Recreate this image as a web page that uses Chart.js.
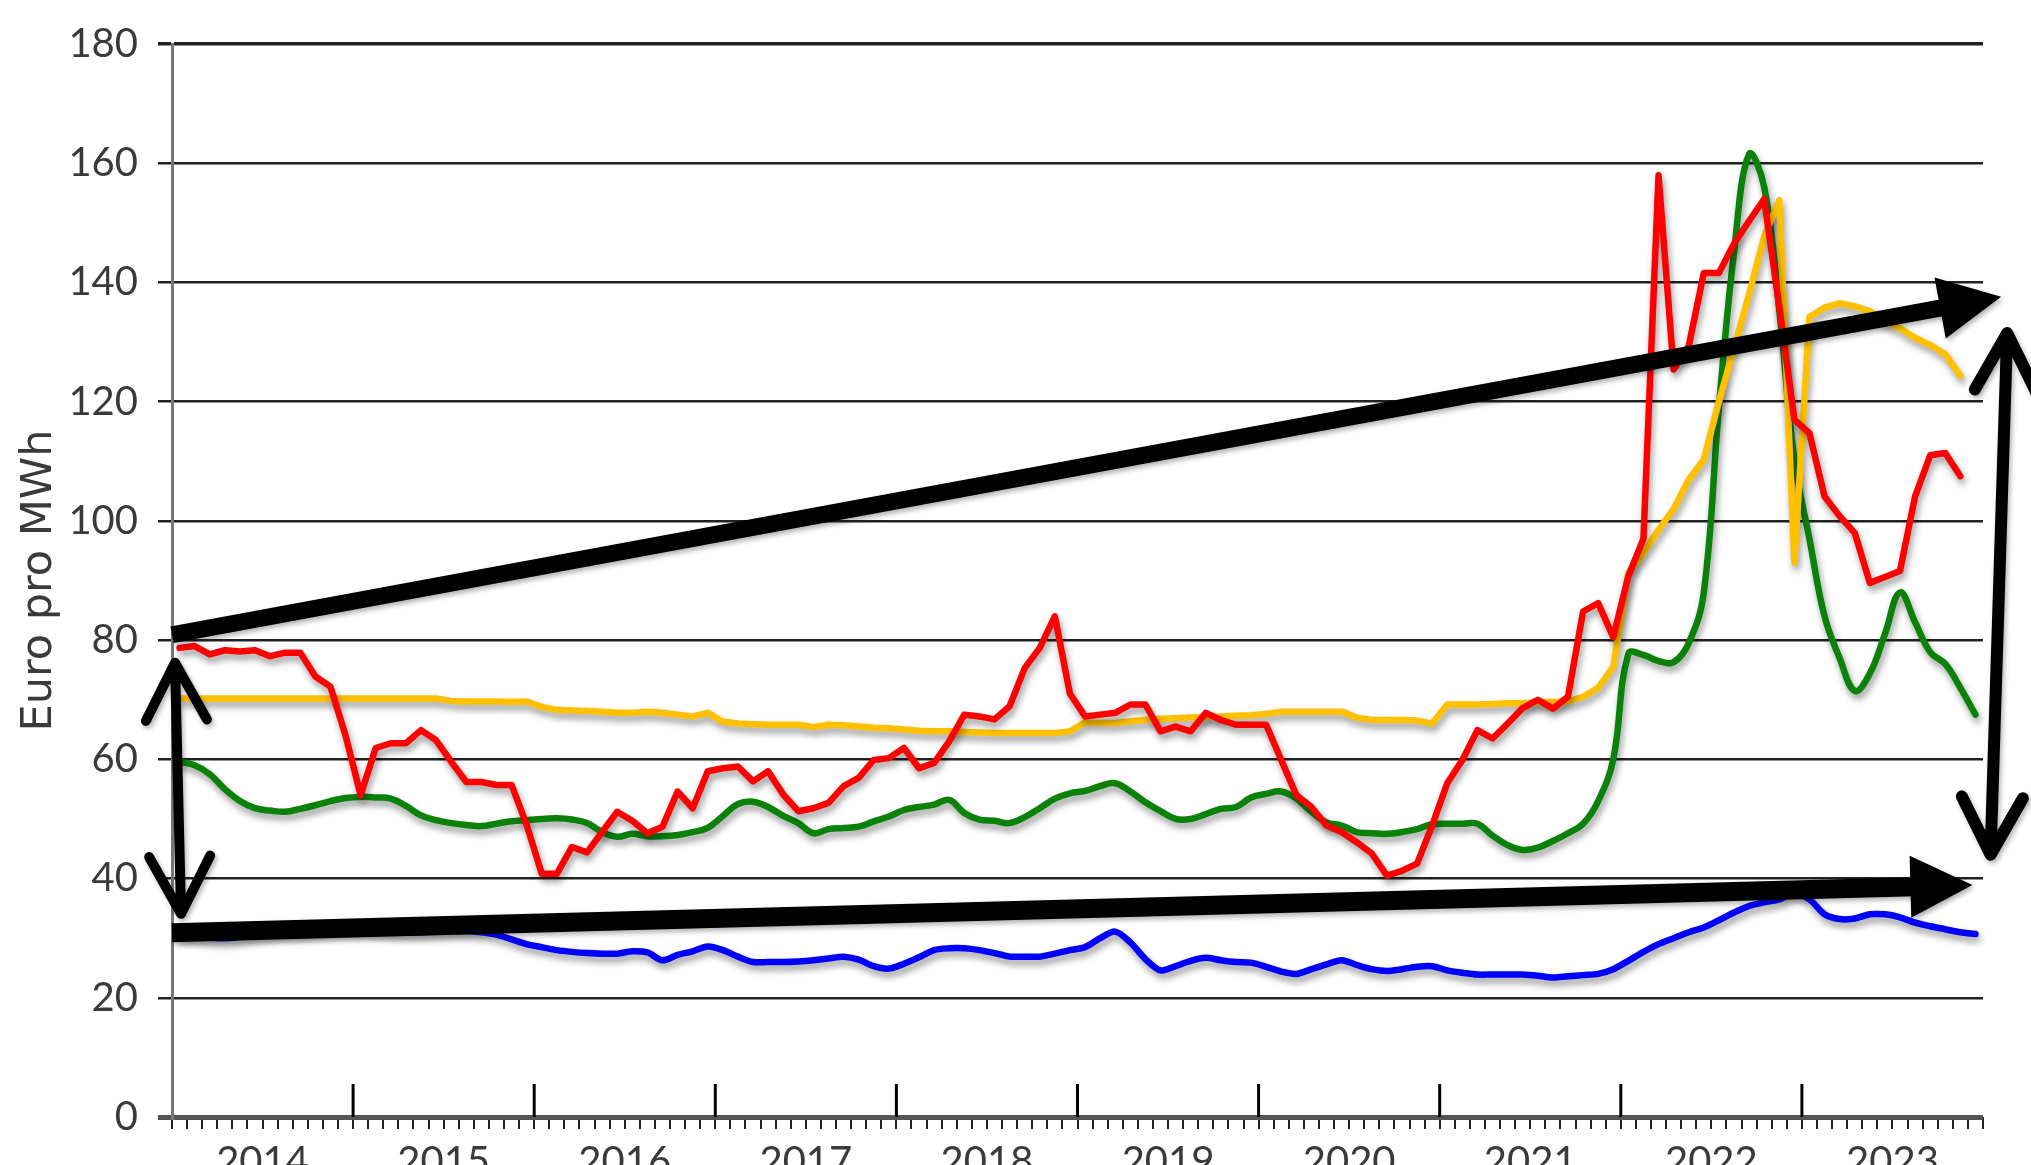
<!DOCTYPE html>
<html lang="de">
<head>
<meta charset="utf-8">
<title>Euro pro MWh</title>
<script src="https://cdn.jsdelivr.net/npm/chart.js@4.4.1/dist/chart.umd.min.js"></script>
<style>
  html, body { margin: 0; padding: 0; background: #fff; }
  #rahmen { width: 2031px; height: 1165px; position: relative; }
</style>
</head>
<body>
<div id="rahmen"><canvas id="preise"></canvas></div>
<script>
// Jahre und Monate (Kategorien)
const jahre = ["2014", "2015", "2016", "2017", "2018", "2019", "2020", "2021", "2022", "2023"];
const monate = ["01", "02", "03", "04", "05", "06", "07", "08", "09", "10", "11", "12"];
const yTicks = [0, 20, 40, 60, 80, 100, 120, 140, 160, 180];

// Monatswerte, Euro pro MWh
const rot = [
  78.7, 79, 77.6, 78.3, 78.1, 78.3, 77.3, 77.9, 77.9, 73.9, 72.2, 64,
  54, 61.9, 62.7, 62.7, 64.9, 63.2, 59.6, 56.2, 56.2, 55.7, 55.7, 49,
  40.8, 40.8, 45.3, 44.4, 47.8, 51.2, 49.7, 47.6, 48.7, 54.6, 51.8, 58,
  58.5, 58.8, 56.3, 58, 54.1, 51.3, 51.8, 52.7, 55.5, 56.9, 59.9, 60.2,
  61.9, 58.5, 59.4, 63, 67.5, 67.2, 66.7, 68.9, 75.3, 78.7, 84, 71,
  67.2, 67.5, 67.8, 69.2, 69.2, 64.7, 65.5, 64.7, 67.8, 66.6, 65.8, 65.8,
  65.8, 59.9, 54, 52, 48.9, 47.8, 46.1, 44.2, 40.5, 41.3, 42.5, 48.9,
  56, 59.9, 64.9, 63.5, 66, 68.6, 70, 68.5, 70.5, 84.8, 86.2, 80.5,
  90.7, 97, 158, 125.4, 129.3, 141.6, 141.6, 146.5, 150.3, 154, 136, 117,
  114.7, 104.1, 100.8, 98, 89.6, 90.6, 91.6, 104.1, 111, 111.4, 107.5, null
];
const gelb = [
  70.2, 70.2, 70.2, 70.2, 70.2, 70.2, 70.2, 70.2, 70.2, 70.2, 70.2, 70.2,
  70.2, 70.2, 70.2, 70.2, 70.2, 70.2, 69.8, 69.7, 69.7, 69.7, 69.6, 69.7,
  68.8, 68.3, 68.2, 68.1, 68, 67.8, 67.8, 68, 67.8, 67.5, 67.2, 67.8,
  66.3, 66, 65.9, 65.8, 65.8, 65.8, 65.4, 65.8, 65.7, 65.5, 65.3, 65.2,
  65, 64.8, 64.7, 64.7, 64.6, 64.5, 64.4, 64.4, 64.4, 64.4, 64.4, 64.7,
  66.2, 66.1, 66.1, 66.4, 66.6, 66.8, 66.9, 67, 67.1, 67.2, 67.3, 67.4,
  67.6, 68, 68, 68, 68, 68, 67, 66.6, 66.6, 66.6, 66.5, 66,
  69.2, 69.2, 69.2, 69.3, 69.4, 69.4, 69.6, 69.6, 69.7, 70.5, 72, 75.5,
  91.3, 94.6, 98.5, 102, 106.9, 110.3, 120, 129, 138, 147.7, 153.8, 93,
  134.2, 135.8, 136.5, 136, 135.2, 133.4, 132.3, 130.7, 129.5, 128, 124.3, null
];
const gruen = [
  59.6, 59, 57.5, 55, 53, 51.8, 51.4, 51.2, 51.7, 52.3, 53, 53.5,
  53.7, 53.6, 53.4, 52.2, 50.6, 49.8, 49.3, 49, 48.8, 49.2, 49.6, 49.8,
  50, 50.1, 49.9, 49.3, 47.8, 47, 47.5, 47.1, 47.1, 47.3, 47.8, 48.5,
  50.5, 52.5, 52.9, 52, 50.5, 49.3, 47.6, 48.3, 48.5, 48.7, 49.6, 50.4,
  51.5, 52, 52.4, 53.2, 51, 49.9, 49.7, 49.3, 50.3, 51.8, 53.4, 54.3,
  54.7, 55.5, 56, 54.6, 52.8, 51.3, 50, 50, 50.8, 51.7, 52, 53.6,
  54.2, 54.6, 53.4, 51.2, 49.4, 48.9, 47.8, 47.6, 47.5, 47.8, 48.3, 49.1,
  49.2, 49.2, 49.2, 47.2, 45.6, 44.8, 45.2, 46.3, 47.6, 49.2, 53, 60,
  77.7, 77.5, 76.5, 76.3, 79.5, 88, 119, 145, 161.5, 156, 135.5, 110.3,
  97, 84, 77, 71.5, 74.4, 81, 88, 83, 78, 76, 72, 67.5
];
const blau = [
  30.5, 30.3, 30.1, 30, 30.2, 30.5, 30.8, 31, 31, 31.2, 31.4, 31.5,
  31.5, 31.3, 31.1, 31, 31, 31.1, 31.2, 31.2, 31, 30.6, 29.8, 29,
  28.5, 28, 27.7, 27.5, 27.4, 27.4, 27.8, 27.6, 26.3, 27.2, 27.8, 28.6,
  28, 26.9, 26, 26, 26, 26.1, 26.3, 26.6, 26.9, 26.4, 25.3, 24.9,
  25.7, 26.8, 28, 28.3, 28.3, 28, 27.5, 26.9, 26.9, 26.9, 27.4, 28,
  28.5, 30, 31.1, 29.3, 26.5, 24.6, 25.3, 26.2, 26.7, 26.3, 26, 25.9,
  25.2, 24.4, 24, 24.8, 25.6, 26.3, 25.5, 24.8, 24.5, 24.8, 25.2, 25.3,
  24.6, 24.2, 23.9, 23.9, 23.9, 23.9, 23.7, 23.4, 23.6, 23.8, 24, 24.8,
  26.2, 27.7, 29, 30, 31, 31.8, 33, 34.3, 35.4, 36, 36.5, 37.5,
  36.5, 34, 33.2, 33.3, 34, 34, 33.5, 32.6, 32, 31.5, 31, 30.7
];

// Pfeile (Monatsindex, Euro pro MWh)
const pfeile = [
  { von: [-0.5, 80.9], bis: [120.7, 137.6], art: "spitze", breite: 17 },
  { von: [-0.5, 30.9], bis: [118.8, 38.9], art: "spitze", breite: 19 },
  { von: [-0.3, 76.2], bis: [0.1, 34.1], art: "doppel", breite: 10 },
  { von: [121.1, 131.5], bis: [120.0, 44.0], art: "doppel", breite: 12 }
];

const labels = [];
jahre.forEach(j => monate.forEach(m => labels.push(j + "-" + m)));

const schriftTicks = "Lato, 'DejaVu Sans', sans-serif";

// weicher Schatten unter den Linien
const schatten = {
  id: "schatten",
  beforeDatasetDraw(chart) {
    const c = chart.ctx;
    c.save();
    c.shadowColor = "rgba(0,0,0,0.4)";
    c.shadowBlur = 7;
    c.shadowOffsetX = 2;
    c.shadowOffsetY = 5;
  },
  afterDatasetDraw(chart) {
    chart.ctx.restore();
  }
};

// Jahresstriche und Jahreszahlen an der x-Achse
const jahresAchse = {
  id: "jahresAchse",
  afterDraw(chart) {
    const c = chart.ctx;
    const x = chart.scales.x;
    const unten = chart.chartArea.bottom;
    c.save();
    c.strokeStyle = "#000";
    c.lineWidth = 3;
    for (let k = 1; k < jahre.length; k++) {
      const px = x.getPixelForValue(k * 12 - 0.5);
      c.beginPath();
      c.moveTo(px, unten - 33);
      c.lineTo(px, unten);
      c.stroke();
    }
    c.fillStyle = "#3a3a3a";
    c.font = "40px " + schriftTicks;
    c.textAlign = "center";
    c.textBaseline = "alphabetic";
    jahre.forEach((j, k) => {
      c.fillText(j, x.getPixelForValue(k * 12 + 5.5), unten + 58);
    });
    c.restore();
  }
};

// schwarze Pfeile
const pfeilPlugin = {
  id: "pfeilPlugin",
  afterDatasetsDraw(chart) {
    const c = chart.ctx;
    const x = chart.scales.x, y = chart.scales.y;
    c.save();
    c.shadowColor = "rgba(0,0,0,0.3)";
    c.shadowBlur = 5;
    c.shadowOffsetX = 2;
    c.shadowOffsetY = 3;
    c.fillStyle = "#000";
    c.strokeStyle = "#000";
    pfeile.forEach(p => {
      const x1 = x.getPixelForValue(p.von[0]), y1 = y.getPixelForValue(p.von[1]);
      const x2 = x.getPixelForValue(p.bis[0]), y2 = y.getPixelForValue(p.bis[1]);
      const w = Math.atan2(y2 - y1, x2 - x1);
      c.lineWidth = p.breite;
      if (p.art === "spitze") {
        const lang = 62, halb = 31;
        const bx = x2 - Math.cos(w) * lang, by = y2 - Math.sin(w) * lang;
        c.lineCap = "butt";
        c.beginPath();
        c.moveTo(x1, y1);
        c.lineTo(bx + Math.cos(w) * 4, by + Math.sin(w) * 4);
        c.stroke();
        c.beginPath();
        c.moveTo(x2, y2);
        c.lineTo(bx - Math.sin(w) * halb, by + Math.cos(w) * halb);
        c.lineTo(bx + Math.sin(w) * halb, by - Math.cos(w) * halb);
        c.closePath();
        c.fill();
      } else {
        const lang = 65, winkel = 28 * Math.PI / 180;
        c.lineCap = "round";
        c.lineJoin = "round";
        c.beginPath();
        c.moveTo(x1, y1);
        c.lineTo(x2, y2);
        [[x1, y1, w + Math.PI], [x2, y2, w]].forEach(([tx, ty, r]) => {
          const zurueck = r + Math.PI;
          c.moveTo(tx + Math.cos(zurueck - winkel) * lang, ty + Math.sin(zurueck - winkel) * lang);
          c.lineTo(tx, ty);
          c.lineTo(tx + Math.cos(zurueck + winkel) * lang, ty + Math.sin(zurueck + winkel) * lang);
        });
        c.stroke();
      }
    });
    c.restore();
  }
};

const ctx = document.getElementById("preise").getContext("2d");
new Chart(ctx, {
  type: "line",
  data: {
    labels: labels,
    datasets: [
      { label: "Rot", data: rot, borderColor: "#ff0000", tension: 0 },
      { label: "Gelb", data: gelb, borderColor: "#ffc000", tension: 0 },
      { label: "Grün", data: gruen, borderColor: "#0a820a", tension: 0.4 },
      { label: "Blau", data: blau, borderColor: "#0000ff", tension: 0.3 }
    ]
  },
  options: {
    responsive: true,
    maintainAspectRatio: false,
    animation: false,
    devicePixelRatio: 1,
    layout: { padding: { top: 44, right: 48, bottom: 0, left: 0 } },
    elements: {
      line: { borderWidth: 6.5, borderCapStyle: "round", borderJoinStyle: "round", fill: false },
      point: { radius: 0 }
    },
    plugins: {
      legend: { display: false },
      tooltip: { enabled: false },
      title: { display: false }
    },
    scales: {
      x: {
        type: "category",
        offset: true,
        grid: { offset: true, drawOnChartArea: false, drawTicks: true, tickLength: 12, color: "#222", lineWidth: 2 },
        border: { display: false },
        ticks: { display: false, autoSkip: false },
        afterFit: s => { s.height = 48; }
      },
      y: {
        min: 0,
        max: 180,
        afterBuildTicks: s => { s.ticks = yTicks.map(v => ({ value: v })); },
        ticks: {
          color: "#3a3a3a",
          padding: 20,
          font: { family: schriftTicks, size: 40 },
          callback: v => String(v)
        },
        grid: {
          tickLength: 14,
          color: c => (c.tick && c.tick.value === 0 ? "#555" : "#222"),
          lineWidth: c => (c.tick && c.tick.value === 0 ? 5 : (c.tick && c.tick.value === 180 ? 3.5 : 2.5))
        },
        border: { display: true, color: "#777", width: 3 },
        title: {
          display: true,
          text: "Euro pro MWh",
          color: "#3a3a3a",
          font: { family: "'DejaVu Sans', sans-serif", size: 43 },
          padding: { top: 14, bottom: 0 }
        },
        afterFit: s => { s.width = 172; }
      }
    }
  },
  plugins: [schatten, jahresAchse, pfeilPlugin]
});
</script>
</body>
</html>
